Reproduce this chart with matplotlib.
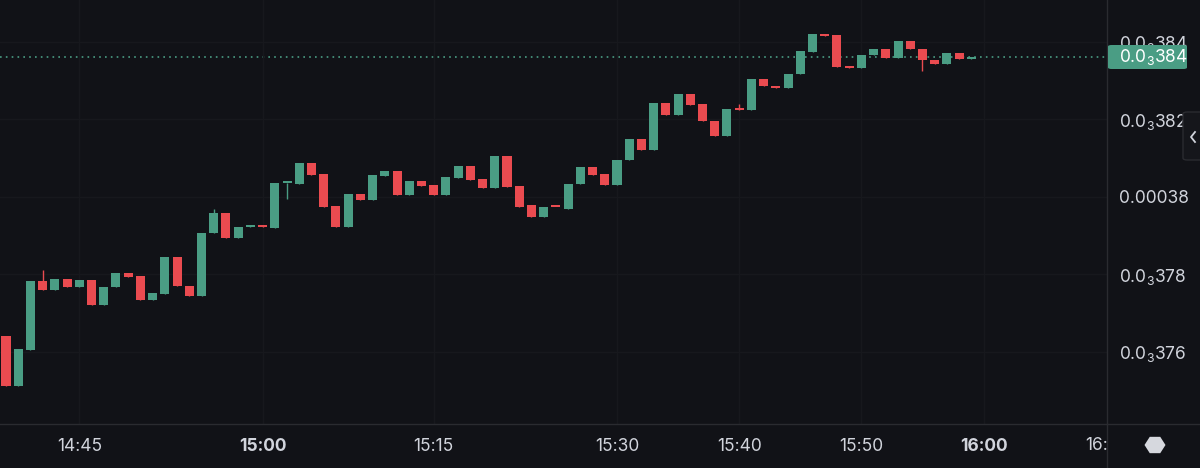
import numpy as np
import matplotlib.pyplot as plt
from matplotlib.patches import FancyBboxPatch, Polygon
from matplotlib.lines import Line2D
from matplotlib.ticker import FuncFormatter
from matplotlib.transforms import Bbox, TransformedBbox

plt.rcParams['font.family'] = ['Inter', 'DejaVu Sans']
plt.rcParams['mathtext.fontset'] = 'custom'
plt.rcParams['mathtext.rm'] = 'Inter'
plt.rcParams['mathtext.it'] = 'Inter'
plt.rcParams['mathtext.bf'] = 'Inter:bold'

# 1-minute candles, prices in millionths (0.000376 -> 376.0)
open_e6 = [376.40, 375.13, 376.05, 377.83, 377.60, 377.88, 377.67, 377.85, 377.20, 377.67,
           378.04, 377.96, 377.33, 377.50, 378.46, 377.70, 377.43, 379.07, 379.58, 378.93,
           379.23, 379.24, 379.20, 380.35, 380.33, 380.87, 380.59, 379.77, 379.23, 380.08,
           379.92, 380.54, 380.67, 380.05, 380.40, 380.31, 380.05, 380.50, 380.79, 380.47,
           380.24, 381.06, 380.27, 379.78, 379.47, 379.75, 379.70, 380.33, 380.77, 380.59,
           380.30, 380.94, 381.50, 381.22, 382.43, 382.10, 382.66, 382.40, 381.97, 381.57,
           382.26, 382.25, 383.04, 382.85, 382.80, 383.17, 383.75, 384.21, 384.17, 383.37,
           383.33, 383.65, 383.81, 383.58, 384.03, 383.82, 383.54, 383.44, 383.71, 383.56]
close_e6 = [375.13, 376.07, 377.83, 377.60, 377.88, 377.67, 377.85, 377.20, 377.67, 378.04,
            377.94, 377.33, 377.52, 378.46, 377.70, 377.43, 379.07, 379.58, 378.93, 379.22,
            379.24, 379.23, 380.35, 380.35, 380.87, 380.56, 379.75, 379.23, 380.08, 379.92,
            380.56, 380.67, 380.05, 380.40, 380.28, 380.05, 380.52, 380.79, 380.44, 380.24,
            381.06, 380.25, 379.75, 379.47, 379.74, 379.74, 380.34, 380.77, 380.57, 380.30,
            380.95, 381.50, 381.22, 382.43, 382.10, 382.66, 382.37, 381.95, 381.57, 382.26,
            382.25, 383.04, 382.85, 382.81, 383.17, 383.77, 384.21, 384.16, 383.36, 383.33,
            383.66, 383.81, 383.58, 384.03, 383.81, 383.52, 383.44, 383.71, 383.56, 383.61]
# only a few candles show wicks beyond the body
wick_high = {3: 378.12, 17: 379.69, 60: 382.40}
wick_low = {23: 379.94, 75: 383.25}

time_pos = [6, 21, 35, 50, 60, 70, 80]
time_labels = ['14:45', '15:00', '15:15', '15:30', '15:40', '15:50', '16:00']
bold_labels = ['15:00', '16:00']
price_ticks = [376, 378, 380, 382, 384]
last_price_label = '0.0$_3$384'

BG = '#111217'
UP = '#4a9d84'
DOWN = '#ea4b50'
TXT = '#d1d4dc'
GRID = '#17181d'
EDGE = '#2a2b30'

W, H = 1200, 468
fig = plt.figure(figsize=(W / 100, H / 100), dpi=100, facecolor=BG)
ax = fig.add_axes([0, (H - 424) / H, 1107 / W, 424 / H], facecolor=BG)

o = np.array(open_e6)
c = np.array(close_e6)
x = np.arange(len(o))
up = c >= o
cols = np.where(up, UP, DOWN)
hi = np.maximum(o, c)
lo = np.minimum(o, c)
for k, v in wick_high.items():
    hi[k] = max(hi[k], v)
for k, v in wick_low.items():
    lo[k] = min(lo[k], v)

bottom = np.minimum(o, c)
height = np.maximum(np.abs(c - o), 0.05)
ax.vlines(x, lo, hi, colors=cols, linewidth=1.0, zorder=2)
ax.bar(x, height, bottom=bottom, width=0.74, color=cols, linewidth=0, zorder=3)

# last price dotted line
ax.axhline(c[-1], color=UP, linestyle=(0, (1, 2.5)), linewidth=1.2, zorder=1)

ax.set_xlim(-0.49, 90.1)
ax.set_ylim(374.14, 385.08)

ax.set_xticks(time_pos)
ax.set_xticklabels(time_labels)
for t in ax.get_xticklabels():
    if t.get_text() in bold_labels:
        t.set_fontweight('bold')
ax.set_yticks(price_ticks)


def fmt_price(v, pos):
    n = int(round(v))
    if n % 10 == 0:
        return '0.000' + str(n // 10)
    return '0.0$_3$' + str(n)


ax.yaxis.set_major_formatter(FuncFormatter(fmt_price))
ax.yaxis.tick_right()
ax.tick_params(axis='x', length=0, pad=10, labelsize=12.5, labelcolor=TXT)
ax.tick_params(axis='y', length=0, pad=8.5, labelsize=12.5, labelcolor=TXT)
ax.grid(True, color=GRID, linewidth=1.0, zorder=0)
for s in ax.spines.values():
    s.set_visible(False)

# panel separators
fig.add_artist(Line2D([1107 / W, 1107 / W], [0, 1], color=EDGE, linewidth=1.0))
fig.add_artist(Line2D([0, 1], [(H - 424) / H] * 2, color=EDGE, linewidth=1.0))

# clipped 16:10 label at right edge of time axis
t = fig.text(1105 / W, (H - 445) / H, '16:10', color=TXT, fontsize=12.5,
             ha='center', va='center')
t.set_clip_box(TransformedBbox(Bbox([[0, 0], [1107 / W, 1]]), fig.transFigure))
t.set_clip_on(True)

# last price badge
badge = FancyBboxPatch((1108 / W, (H - 69) / H), 79 / W, 24 / H,
                       boxstyle='round,pad=0,rounding_size=0.003',
                       transform=fig.transFigure, facecolor=UP, edgecolor='none', zorder=5)
fig.add_artist(badge)
fig.text(1119 / W, (H - 57) / H, last_price_label, color='white', fontsize=12.5,
         ha='left', va='center', zorder=6)

# collapse button on the right
btn = FancyBboxPatch((1183 / W, (H - 160) / H), 22 / W, 48 / H,
                     boxstyle='round,pad=0,rounding_size=0.004',
                     transform=fig.transFigure, facecolor='#15161b', edgecolor=EDGE,
                     linewidth=1.0, zorder=5)
fig.add_artist(btn)
fig.add_artist(Line2D([1195 / W, 1191 / W, 1195 / W],
                      [(H - 132) / H, (H - 137) / H, (H - 142) / H],
                      color=TXT, linewidth=1.3, zorder=6))

# hexagon icon bottom-right
cx, cy, r = 1155, 445, 10.5
ang = np.deg2rad(np.arange(0, 360, 60))
hx = (cx + r * np.cos(ang)) / W
hy = (H - (cy + r * 0.9 * np.sin(ang))) / H
fig.add_artist(Polygon(np.column_stack([hx, hy]), closed=True,
                       transform=fig.transFigure, facecolor='#d6d8de',
                       edgecolor='none', zorder=5))

fig.savefig('out.png', dpi=100, facecolor=BG)
